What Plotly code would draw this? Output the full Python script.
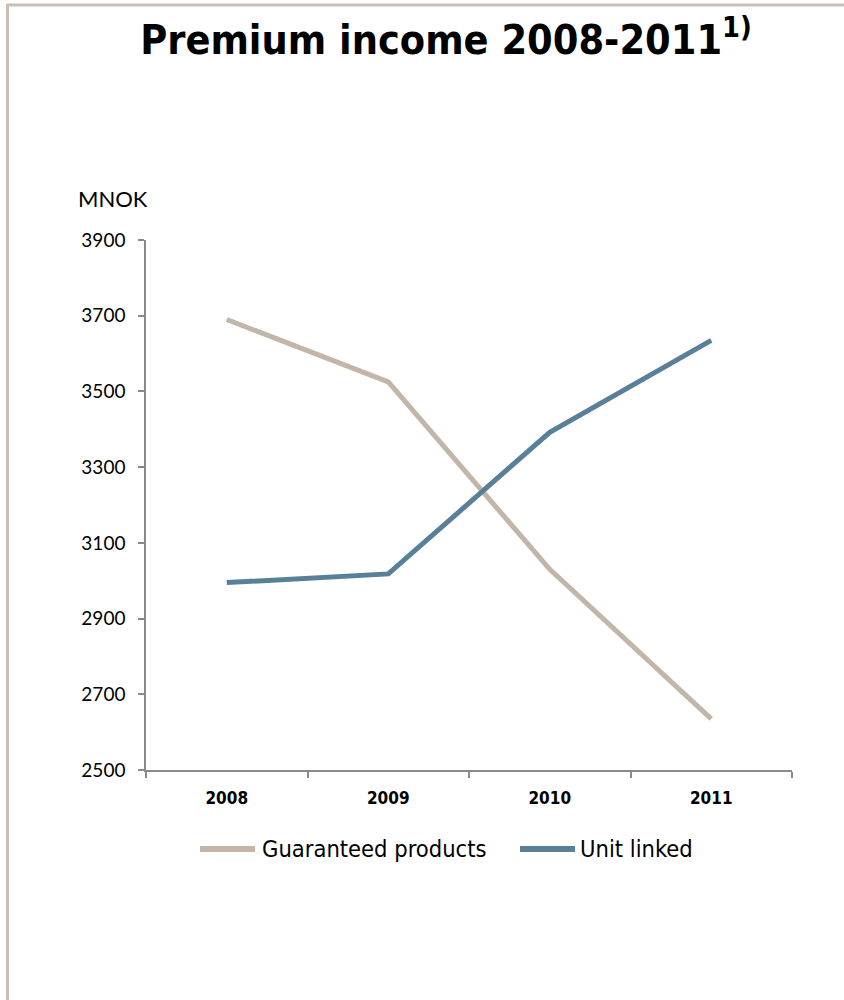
import plotly.graph_objects as go

# Premium income by product line, MNOK
years = ["2008", "2009", "2010", "2011"]
guaranteed = [3690, 3525, 3030, 2635]
unit_linked = [2995, 3018, 3392, 3635]

y_ticks = [2500, 2700, 2900, 3100, 3300, 3500, 3700, 3900]

series = [
    ("Guaranteed products", guaranteed, "#c1b6a8"),
    ("Unit linked", unit_linked, "#5a7f98"),
]

W, H = 844, 1000
L, R, T, B = 146, 52, 240, 230
plot_w = W - L - R
plot_h = H - T - B


def px_x(px):
    return (px - L) / plot_w


def px_y(py):
    return (H - B - py) / plot_h


fig = go.Figure()
for name, values, color in series:
    fig.add_trace(go.Scatter(
        x=years, y=values, mode="lines", name=name,
        line=dict(color=color, width=5),
    ))

axis_col = "#8a8a8a"
legend_font = dict(family="DejaVu Sans Condensed, DejaVu Sans", size=23.5, color="#000000")

# legend drawn below the axis: a line key followed by the series name
legend_y = px_y(849)
legend_keys = [(200, 255, 260), (520, 575, 578)]
shapes = []
annotations = []
for (name, _, color), (k0, k1, tx) in zip(series, legend_keys):
    shapes.append(dict(type="line", xref="paper", yref="paper",
                       x0=px_x(k0), x1=px_x(k1), y0=legend_y, y1=legend_y,
                       line=dict(color=color, width=6)))
    annotations.append(dict(text=name, xref="paper", yref="paper",
                            x=px_x(tx), y=legend_y, xanchor="left", yanchor="middle",
                            showarrow=False, font=legend_font))

annotations.append(dict(
    text="MNOK", xref="paper", yref="paper",
    x=px_x(76), y=px_y(198), xanchor="left", yanchor="middle",
    showarrow=False,
    font=dict(family="Lato, Carlito, sans-serif", size=22, color="#000000"),
))

# frame along the top and left edges
shapes += [
    dict(type="line", xref="paper", yref="paper",
         x0=px_x(7), x1=px_x(W + 2), y0=px_y(5), y1=px_y(5),
         line=dict(color="#c9c0b3", width=3)),
    dict(type="line", xref="paper", yref="paper",
         x0=px_x(7.5), x1=px_x(7.5), y0=px_y(4), y1=px_y(H + 2),
         line=dict(color="#c9c0b3", width=3)),
]

fig.update_layout(
    width=W, height=H,
    margin=dict(l=L, r=R, t=T, b=B),
    paper_bgcolor="white", plot_bgcolor="white",
    showlegend=False,
    title=dict(
        text="<b>Premium income 2008-2011<sup>1)</sup></b>",
        x=446 / W, xanchor="center", xref="container",
        y=1 - 40 / H, yanchor="middle", yref="container",
        font=dict(family="DejaVu Sans Condensed, DejaVu Sans", size=41, color="#000000"),
    ),
    xaxis=dict(
        type="category", range=[-0.5, 3.5],
        showline=True, linecolor=axis_col, linewidth=1.5,
        ticks="outside", ticklen=6, tickcolor=axis_col, tickwidth=1.5,
        tickson="boundaries", showgrid=False, zeroline=False,
        tickfont=dict(family="DejaVu Sans Condensed, DejaVu Sans", size=17, color="#000000"),
        tickprefix="<b>", ticksuffix="</b>",
        ticklabelstandoff=12,
    ),
    yaxis=dict(
        range=[2500, 3900], tickvals=y_ticks,
        showline=True, linecolor=axis_col, linewidth=1.5,
        ticks="outside", ticklen=6, tickcolor=axis_col, tickwidth=1.5,
        showgrid=False, zeroline=False,
        tickfont=dict(family="Lato, Carlito, sans-serif", size=19, color="#000000"),
        ticklabelstandoff=9,
    ),
    shapes=shapes,
    annotations=annotations,
)

fig.write_html("out.html")
